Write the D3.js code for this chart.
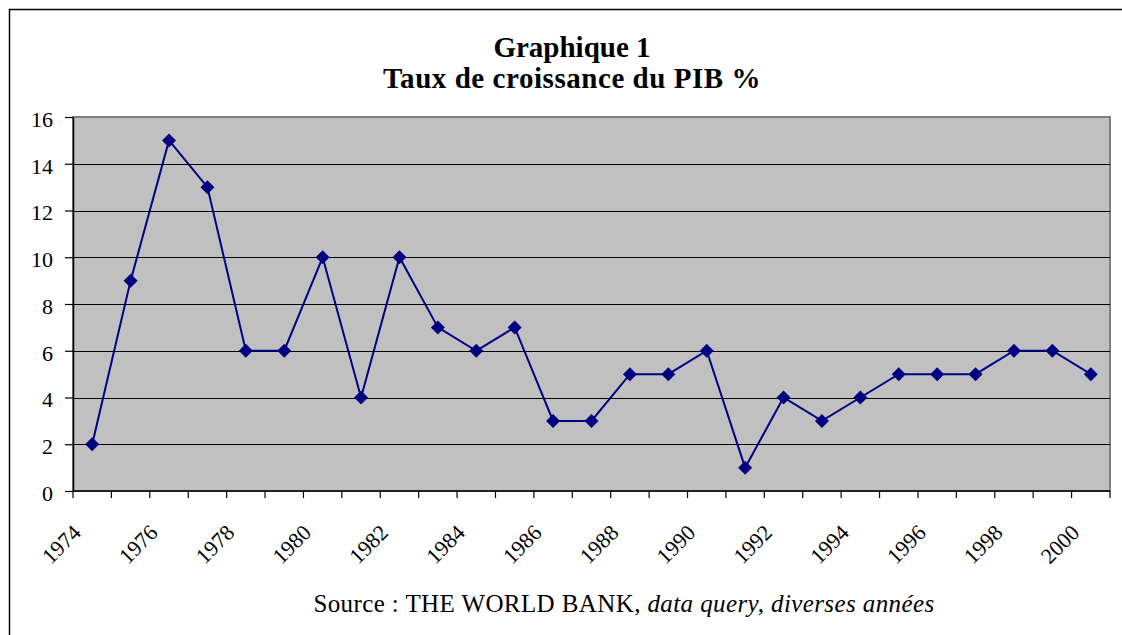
<!DOCTYPE html>
<html><head><meta charset="utf-8">
<script src="https://cdn.jsdelivr.net/npm/d3@7"></script>
<style>body{margin:0;background:#fff}svg{display:block}</style>
</head><body>
<svg id="c" width="1122" height="635"></svg>
<script>
const years = [1974,1975,1976,1977,1978,1979,1980,1981,1982,1983,1984,1985,1986,1987,1988,1989,1990,1991,1992,1993,1994,1995,1996,1997,1998,1999,2000];
const growth = [2,9,15,13,6,6,10,4,10,7,6,7,3,3,5,5,6,1,4,3,4,5,5,5,6,6,5];
const yTicks = [0,2,4,6,8,10,12,14,16];
const xLabels = [1974,1976,1978,1980,1982,1984,1986,1988,1990,1992,1994,1996,1998,2000];

const svg = d3.select("#c");
const L = 73, R = 1110, T = 117, B = 491;
const font = "Liberation Serif";

svg.append("rect").attr("x",9.5).attr("y",9.5).attr("width",1130).attr("height",640)
  .attr("fill","none").attr("stroke","#000").attr("stroke-width",1.5);

const x = d3.scaleBand().domain(years).range([L,R]).padding(0);
const y = d3.scaleLinear().domain([0,16]).range([B,T]);

svg.append("rect").attr("x",L).attr("y",T).attr("width",R-L).attr("height",B-T)
  .attr("fill","#c0c0c0").attr("stroke","#808080").attr("stroke-width",2);

// gridlines
svg.append("g").selectAll("line").data(yTicks.filter(d=>d>0 && d<16)).join("line")
  .attr("x1",L).attr("x2",R).attr("y1",d=>Math.round(y(d))+0.5).attr("y2",d=>Math.round(y(d))+0.5)
  .attr("stroke","#000").attr("stroke-width",1);

// y axis
const ya = svg.append("g").attr("transform",`translate(${L},0)`)
  .call(d3.axisLeft(y).tickValues(yTicks).tickSize(8).tickPadding(12).tickSizeOuter(0));
ya.attr("font-family",font).attr("font-size",22);
ya.select(".domain").attr("stroke","#000").attr("stroke-width",1.5);
ya.selectAll(".tick line").attr("stroke","#000").attr("stroke-width",1.2);
ya.selectAll("text").style("font-family",font).attr("font-size",22).attr("dy","0.42em").attr("fill","#000");

// x axis: ticks at category boundaries
const xa = svg.append("g").attr("transform",`translate(0,${B})`);
xa.append("line").attr("x1",L).attr("x2",R).attr("y1",0).attr("y2",0).attr("stroke","#000").attr("stroke-width",1.5);
const bounds = years.map(d=>x(d)).concat([R]);
xa.selectAll("line.t").data(bounds).join("line").attr("class","t")
  .attr("x1",d=>d).attr("x2",d=>d).attr("y1",0).attr("y2",7).attr("stroke","#000").attr("stroke-width",1.2);
xa.selectAll("text").data(xLabels).join("text")
  .attr("transform",d=>`translate(${x(d)+x.bandwidth()/2-10},${43}) rotate(-45)`)
  .attr("text-anchor","end")
  .style("font-family",font).attr("font-size",22).attr("fill","#000").text(d=>d);

// line
const cx = d=>x(d)+x.bandwidth()/2;
svg.append("path").datum(years.map((d,i)=>[cx(d),y(growth[i])]))
  .attr("d",d3.line()).attr("fill","none").attr("stroke","#000080").attr("stroke-width",2);
svg.append("g").selectAll("path").data(years).join("path")
  .attr("transform",(d,i)=>`translate(${cx(d)},${y(growth[i])})`)
  .attr("d","M0,-7L7,0L0,7L-7,0Z").attr("fill","#000080");

// titles
svg.append("text").attr("x",572).attr("y",57).attr("text-anchor","middle")
  .style("font-family",font).attr("font-weight","bold").attr("font-size",29).text("Graphique 1");
svg.append("text").attr("x",572).attr("y",88).attr("text-anchor","middle")
  .style("font-family",font).attr("font-weight","bold").attr("font-size",29).attr("letter-spacing",0.55).text("Taux de croissance du PIB %");

const src = svg.append("text").attr("x",624).attr("y",612).attr("text-anchor","middle")
  .style("font-family",font).attr("font-size",25).attr("letter-spacing",0.4);
src.append("tspan").text("Source : THE WORLD BANK, ");
src.append("tspan").attr("font-style","italic").text("data query, diverses années");
</script>
</body></html>
